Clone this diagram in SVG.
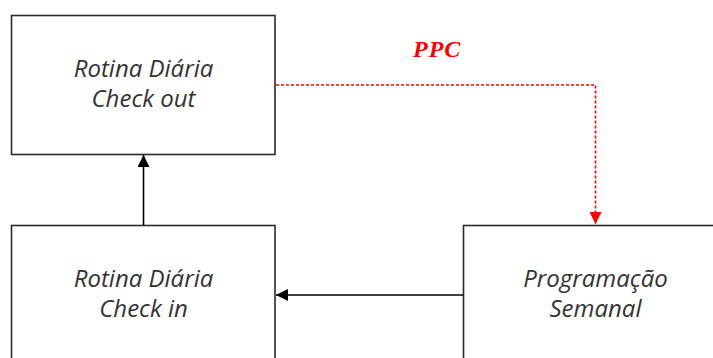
<svg xmlns="http://www.w3.org/2000/svg" width="713" height="358" viewBox="0 0 713 358">
  <style>
    .box { fill: #ffffff; stroke: #2b2b2b; stroke-width: 1.6; }
    .label { font-family: "Open Sans", "Noto Sans", sans-serif; font-style: italic; font-size: 24px; fill: #333333; text-anchor: middle; }
    .flow { fill: none; stroke: #000000; stroke-width: 1.6; }
    .plan { fill: none; stroke: #ff0000; stroke-width: 1.6; stroke-dasharray: 3 2; }
    .ppc { font-family: "Liberation Serif", serif; font-style: italic; font-weight: bold; font-size: 24px; letter-spacing: 1px; fill: #ff0000; }
  </style>
  <defs>
    <marker id="arrowBlack" viewBox="0 0 12 12" refX="12" refY="6" markerWidth="12" markerHeight="12" markerUnits="userSpaceOnUse" orient="auto">
      <path d="M0,0 L12,6 L0,12 Z" fill="#000000"/>
    </marker>
    <marker id="arrowRed" viewBox="0 0 12 12" refX="12" refY="6" markerWidth="12" markerHeight="12" markerUnits="userSpaceOnUse" orient="auto">
      <path d="M0,0 L12,6 L0,12 Z" fill="#ff0000"/>
    </marker>
  </defs>

  <g id="checkout">
    <rect class="box" x="11.5" y="15.5" width="263.5" height="139"/>
    <text class="label" x="143.5" y="77">Rotina Diária</text>
    <text class="label" x="143.5" y="107">Check out</text>
  </g>

  <g id="checkin">
    <rect class="box" x="11.5" y="225.5" width="263.5" height="139"/>
    <text class="label" x="143.5" y="287">Rotina Diária</text>
    <text class="label" x="143.5" y="317">Check in</text>
  </g>

  <g id="programacao">
    <rect class="box" x="463.5" y="225.5" width="264" height="139"/>
    <text class="label" x="595.5" y="287">Programação</text>
    <text class="label" x="595.5" y="317">Semanal</text>
  </g>

  <g id="connectors">
    <path class="flow" d="M143.5,225 L143.5,155" marker-end="url(#arrowBlack)"/>
    <path class="flow" d="M463,295 L276,295" marker-end="url(#arrowBlack)"/>
    <path class="plan" d="M276,85 L595.5,85 L595.5,224" marker-end="url(#arrowRed)"/>
    <text class="ppc" x="413" y="57">PPC</text>
  </g>
</svg>
